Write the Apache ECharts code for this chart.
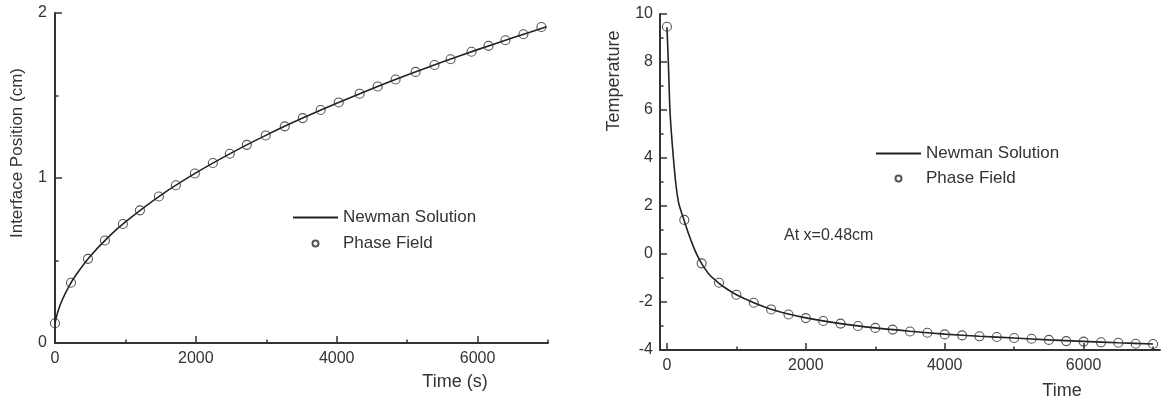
<!DOCTYPE html>
<html><head><meta charset="utf-8">
<script src="https://cdn.jsdelivr.net/npm/echarts@6/dist/echarts.min.js"></script>
<style>html,body{margin:0;padding:0;background:#fff}#c{width:1165px;height:403px}</style>
</head><body><div id="c"></div>
<script>
// ---- Left chart: interface position vs time ----
const posLineT = [0, 25, 50, 100, 200, 300, 500, 750, 1000, 1500, 2000, 2500, 3000, 3500, 4000, 4500, 5000, 5500, 6000, 6500, 6980];
const posLineS = [0.12, 0.166, 0.202, 0.259, 0.345, 0.414, 0.526, 0.639, 0.734, 0.895, 1.031, 1.151, 1.26, 1.36, 1.453, 1.541, 1.624, 1.703, 1.778, 1.85, 1.917];
const posPhaseT = [0, 227, 468, 709, 964, 1206, 1475, 1716, 1985, 2241, 2482, 2723, 2992, 3262, 3517, 3772, 4028, 4325, 4581, 4836, 5120, 5389, 5616, 5914, 6155, 6396, 6651, 6906];
const posPhaseS = [0.12, 0.365, 0.51, 0.621, 0.721, 0.804, 0.888, 0.956, 1.027, 1.091, 1.147, 1.201, 1.258, 1.313, 1.363, 1.412, 1.458, 1.511, 1.555, 1.597, 1.643, 1.685, 1.72, 1.765, 1.801, 1.835, 1.871, 1.915];

// ---- Right chart: temperature vs time ----
const tempLineT = [0, 20, 40, 60, 90, 125, 167, 210, 250, 310, 375, 440, 500, 600, 750, 875, 1000, 1250, 1500, 1750, 2000, 2500, 3000, 3500, 4000, 4500, 5000, 5500, 6000, 6500, 7000];
const tempLineV = [9.45, 8.0, 6.2, 5.2, 4.1, 3.0, 2.15, 1.72, 1.38, 0.85, 0.35, -0.08, -0.4, -0.82, -1.22, -1.48, -1.7, -2.03, -2.3, -2.5, -2.66, -2.9, -3.08, -3.22, -3.34, -3.43, -3.5, -3.58, -3.64, -3.7, -3.75];
const tempPhaseT = [0, 250, 500, 750, 1000, 1250, 1500, 1750, 2000, 2250, 2500, 2750, 3000, 3250, 3500, 3750, 4000, 4250, 4500, 4750, 5000, 5250, 5500, 5750, 6000, 6250, 6500, 6750, 7000];
const tempPhaseV = [9.47, 1.42, -0.39, -1.2, -1.7, -2.03, -2.31, -2.52, -2.67, -2.79, -2.9, -3.0, -3.08, -3.15, -3.23, -3.28, -3.35, -3.39, -3.43, -3.46, -3.5, -3.53, -3.58, -3.63, -3.65, -3.68, -3.7, -3.74, -3.75];

// ---- Tick labels ----
const timeTicks = [0, 2000, 4000, 6000];
const timeMinorTicks = [1000, 3000, 5000, 7000];
const posTicks = [0, 1, 2];
const tempTicks = [-4, -2, 0, 2, 4, 6, 8, 10];

const FONT = '"Liberation Sans", Arial, sans-serif';
const INK = '#333';
const zip = (a, b) => a.map((v, i) => [v, b[i]]);
const fmt = v => String(v);

function xMajor(grid, min, max) {
  return {
    gridIndex: grid, type: 'value', min: min, max: max, position: 'bottom',
    axisLine: { onZero: false, lineStyle: { color: INK, width: 2 } },
    axisTick: { inside: true, length: 7, customValues: timeTicks, lineStyle: { color: INK, width: 1.5 } },
    axisLabel: { customValues: timeTicks, formatter: fmt, margin: 8, color: INK, fontSize: 16, fontFamily: FONT },
    splitLine: { show: false }
  };
}
function xMinor(grid, min, max) {
  return {
    gridIndex: grid, type: 'value', min: min, max: max, position: 'bottom', offset: 0,
    axisLine: { show: false, onZero: false },
    axisTick: { inside: true, length: 3.5, customValues: timeMinorTicks, lineStyle: { color: INK, width: 1.5 } },
    axisLabel: { show: false },
    splitLine: { show: false }
  };
}
function yAxis(grid, min, max, interval, margin) {
  return {
    gridIndex: grid, type: 'value', min: min, max: max, interval: interval,
    axisLine: { show: true, onZero: false, lineStyle: { color: INK, width: 2 } },
    axisTick: { show: true, inside: true, length: 7, lineStyle: { color: INK, width: 1.5 } },
    minorTick: { show: true, splitNumber: 2, length: 3.5, lineStyle: { color: INK, width: 1.5 } },
    axisLabel: { formatter: fmt, margin: margin, color: INK, fontSize: 16, fontFamily: FONT },
    splitLine: { show: false }
  };
}

const circleStyle = { color: 'rgba(255,255,255,0)', borderColor: '#2a2a2a', borderWidth: 1.1 };

const chart = echarts.init(document.getElementById('c'), null, { renderer: 'canvas' });
chart.setOption({
  animation: false,
  backgroundColor: '#fff',
  textStyle: { fontFamily: FONT },
  grid: [
    { left: 55, top: 13, width: 493, height: 330 },
    { left: 660, top: 14, width: 500, height: 336 }
  ],
  xAxis: [xMajor(0, 0, 7000), xMinor(0, 0, 7000), xMajor(1, -100, 7100), xMinor(1, -100, 7100)],
  yAxis: [yAxis(0, posTicks[0], posTicks[posTicks.length - 1], 1, 8), yAxis(1, tempTicks[0], tempTicks[tempTicks.length - 1], 2, 7)],
  legend: [
    {
      orient: 'vertical', left: 287, top: 204, itemWidth: 45, itemHeight: 6, itemGap: 9,
      textStyle: { color: INK, fontSize: 17, fontFamily: FONT },
      data: [{ name: 'Newman Solution', itemStyle: { opacity: 0 } }, { name: 'Phase Field' }]
    },
    {
      orient: 'vertical', left: 870, top: 140, itemWidth: 45, itemHeight: 6, itemGap: 8,
      textStyle: { color: INK, fontSize: 17, fontFamily: FONT },
      data: [{ name: 'Newman Solution ', itemStyle: { opacity: 0 } }, { name: 'Phase Field ' }]
    }
  ],
  graphic: [
    { type: 'text', x: 17, y: 153, rotation: Math.PI / 2, style: { text: 'Interface Position (cm)', fill: INK, font: '17px ' + FONT, align: 'center', verticalAlign: 'middle' } },
    { type: 'text', x: 455, y: 382, style: { text: 'Time (s)', fill: INK, font: '18px ' + FONT, align: 'center', verticalAlign: 'middle' } },
    { type: 'text', x: 614, y: 81, rotation: Math.PI / 2, style: { text: 'Temperature', fill: INK, font: '18px ' + FONT, align: 'center', verticalAlign: 'middle' } },
    { type: 'text', x: 1062, y: 391, style: { text: 'Time', fill: INK, font: '18px ' + FONT, align: 'center', verticalAlign: 'middle' } },
    { type: 'text', x: 784, y: 236, style: { text: 'At x=0.48cm', fill: INK, font: '16px ' + FONT, align: 'left', verticalAlign: 'middle' } }
  ],
  series: [
    {
      name: 'Newman Solution', type: 'line', xAxisIndex: 0, yAxisIndex: 0,
      data: zip(posLineT, posLineS), showSymbol: false, symbol: 'none',
      smooth: 0.25,
      lineStyle: { color: '#222', width: 1.6 }, itemStyle: { color: '#222' }, z: 2
    },
    {
      name: 'Phase Field', type: 'scatter', xAxisIndex: 0, yAxisIndex: 0,
      data: zip(posPhaseT, posPhaseS), symbol: 'circle', symbolSize: 9,
      itemStyle: circleStyle, z: 3
    },
    {
      name: 'Newman Solution ', type: 'line', xAxisIndex: 2, yAxisIndex: 1,
      data: zip(tempLineT, tempLineV), showSymbol: false, symbol: 'none',
      smooth: 0.25,
      lineStyle: { color: '#222', width: 1.6 }, itemStyle: { color: '#222' }, z: 2
    },
    {
      name: 'Phase Field ', type: 'scatter', xAxisIndex: 2, yAxisIndex: 1,
      data: zip(tempPhaseT, tempPhaseV), symbol: 'circle', symbolSize: 9,
      itemStyle: circleStyle, z: 3
    }
  ]
});
</script></body></html>
